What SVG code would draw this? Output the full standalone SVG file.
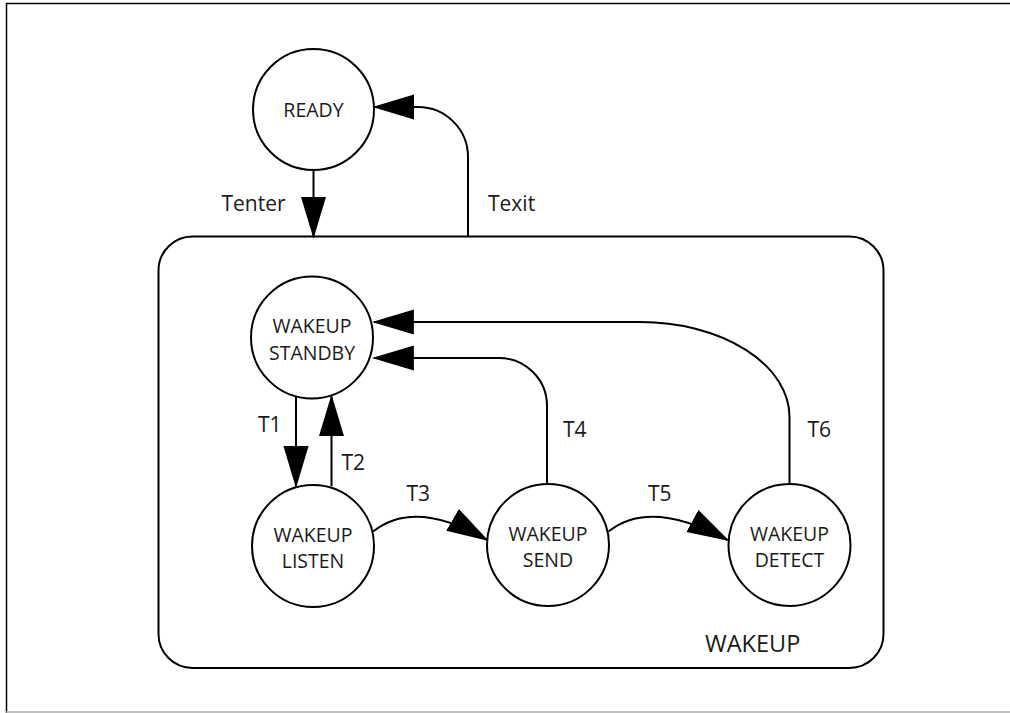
<svg xmlns="http://www.w3.org/2000/svg" width="1010" height="713" viewBox="0 0 1010 713">
<style>
.frame{stroke:#000;stroke-width:1.5;fill:none}
.node{fill:#fff;stroke:#000;stroke-width:2}
.edge{fill:none;stroke:#000;stroke-width:2}
.nt{font-family:"Open Sans","Liberation Sans",sans-serif;font-size:19.5px;fill:#1a1a1a;text-anchor:middle}
.lbl{font-family:"Open Sans","Liberation Sans",sans-serif;font-size:21px;fill:#1a1a1a}
</style>
<defs>
<marker id="ah" markerUnits="userSpaceOnUse" markerWidth="42" markerHeight="26" viewBox="0 0 40 24" refX="38" refY="12" orient="auto">
<path d="M0,0 L40,12 L0,24 z" fill="#000"/>
</marker>
</defs>
<rect width="1010" height="713" fill="#fff"/>
<g id="frame">
<line class="frame" x1="6" y1="3.5" x2="1010" y2="3.5"/>
<line class="frame" x1="6.5" y1="3" x2="6.5" y2="713"/>
<line x1="6" y1="712" x2="1010" y2="712" stroke="#aaa" stroke-width="1.5"/>
</g>
<g id="wakeup">
<rect class="node" x="158.5" y="236.5" width="725" height="431.5" rx="34" ry="34"/>
<text class="lbl" x="705" y="652" style="font-size:23.5px">WAKEUP</text>
</g>
<g id="connectors">
<path class="edge" d="M313.5,170 L313.5,236.5" marker-end="url(#ah)"/>
<path class="edge" d="M468,236.5 L468,157 A50,50 0 0 0 418,107 L374.5,107" marker-end="url(#ah)"/>
<path class="edge" d="M296,396 L296,486" marker-end="url(#ah)"/>
<path class="edge" d="M331.5,486 L331.5,396.5" marker-end="url(#ah)"/>
<path class="edge" d="M373,531.5 Q415,498 487,540" marker-end="url(#ah)"/>
<path class="edge" d="M608.5,531.5 Q650,498 727.5,540" marker-end="url(#ah)"/>
<path class="edge" d="M547,484 L547,406 A48,48 0 0 0 499,358 L374,358" marker-end="url(#ah)"/>
<path class="edge" d="M789.5,484 L789.5,417 A149,95 0 0 0 640.5,322 L374,322" marker-end="url(#ah)"/>
<text class="lbl" x="221.5" y="211">Tenter</text>
<text class="lbl" x="488" y="211">Texit</text>
<text class="lbl" x="258" y="432">T1</text>
<text class="lbl" x="341.5" y="470">T2</text>
<text class="lbl" x="406.5" y="501">T3</text>
<text class="lbl" x="563" y="437">T4</text>
<text class="lbl" x="648" y="501">T5</text>
<text class="lbl" x="807.5" y="437">T6</text>
</g>
<g id="ready">
<circle class="node" cx="313.5" cy="109.5" r="60.5"/>
<text class="nt" x="313.5" y="116.5">READY</text>
</g>
<g id="standby">
<circle class="node" cx="312" cy="337.5" r="61"/>
<text class="nt" x="312" y="333">WAKEUP</text>
<text class="nt" x="312" y="359.5">STANDBY</text>
</g>
<g id="listen">
<circle class="node" cx="313" cy="546" r="61"/>
<text class="nt" x="313" y="541.5">WAKEUP</text>
<text class="nt" x="313" y="567.5">LISTEN</text>
</g>
<g id="send">
<circle class="node" cx="548" cy="545" r="61"/>
<text class="nt" x="548" y="540.5">WAKEUP</text>
<text class="nt" x="548" y="566.5">SEND</text>
</g>
<g id="detect">
<circle class="node" cx="789.5" cy="545" r="61"/>
<text class="nt" x="789.5" y="540.5">WAKEUP</text>
<text class="nt" x="789.5" y="566.5">DETECT</text>
</g>
</svg>
